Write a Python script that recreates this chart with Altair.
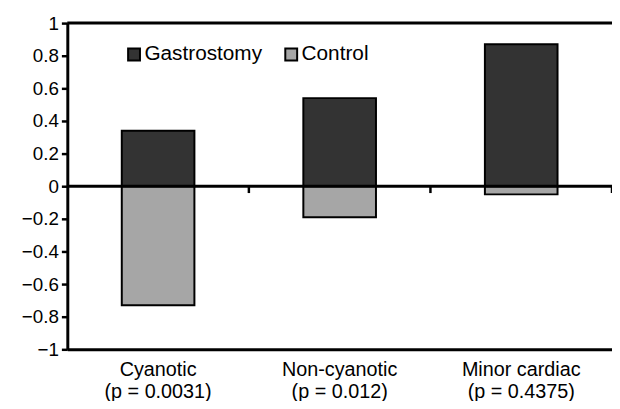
import altair as alt
import pandas as pd

categories = ["Cyanotic", "Non-cyanotic", "Minor cardiac"]
p_values = ["(p = 0.0031)", "(p = 0.012)", "(p = 0.4375)"]
gastrostomy = [0.34, 0.54, 0.87]
control = [-0.73, -0.19, -0.05]
series = ["Gastrostomy", "Control"]
colors = ["#333333", "#a6a6a6"]
y_ticks = [-1, -0.8, -0.6, -0.4, -0.2, 0, 0.2, 0.4, 0.6, 0.8, 1]

FONT = "Liberation Sans"
labels = [f"{c}\n{p}" for c, p in zip(categories, p_values)]

rows = []
for lab, g, c in zip(labels, gastrostomy, control):
    rows.append({"cat": lab, "series": series[0], "value": g})
    rows.append({"cat": lab, "series": series[1], "value": c})
df = pd.DataFrame(rows)

xscale = alt.Scale(domain=labels, paddingInner=0, paddingOuter=0)
yscale = alt.Scale(domain=[y_ticks[0], y_ticks[-1]], nice=False)

x_axis = alt.Axis(
    title=None,
    labelExpr="split(datum.label, '\\n')",
    labelAngle=0,
    ticks=False,
    domainColor="black",
    domainWidth=3,
    labelFont=FONT,
    labelFontSize=20,
    labelColor="black",
    labelPadding=10,
    labelLineHeight=23,
    labelOverlap=False,
)
y_axis = alt.Axis(
    title=None,
    values=y_ticks,
    labelExpr="replace(format(datum.value, '.1~f'), '-', '\u2212')",
    grid=False,
    domainColor="black",
    domainWidth=3,
    tickColor="black",
    tickWidth=2.5,
    tickSize=6,
    labelFont=FONT,
    labelFontSize=19,
    labelColor="black",
    labelPadding=3,
    labelOverlap=False,
    labelBound=False,
)

bars = alt.Chart(df).mark_bar(width={"band": 0.4}, stroke="black", strokeWidth=2).encode(
    x=alt.X("cat:N", scale=xscale, sort=labels, axis=x_axis),
    y=alt.Y("value:Q", scale=yscale, axis=y_axis),
    y2=alt.datum(0),
    color=alt.Color(
        "series:N",
        scale=alt.Scale(domain=series, range=colors),
        sort=series,
        legend=alt.Legend(
            title=None,
            orient="none",
            legendX=57,
            legendY=21,
            direction="horizontal",
            symbolType="square",
            symbolSize=144,
            symbolStrokeColor="black",
            symbolStrokeWidth=2,
            symbolOpacity=1,
            labelFont=FONT,
            labelFontSize=21,
            labelColor="black",
            labelOffset=0,
            columnPadding=18,
            padding=0,
        ),
    ),
)

frame_df = pd.DataFrame({"y": [y_ticks[-1]]})
top_rule = alt.Chart(frame_df).mark_rule(color="black", strokeWidth=3).encode(
    y=alt.Y("y:Q", scale=yscale, axis=y_axis)
)
zero_df = pd.DataFrame({"y": [0]})
zero_rule = alt.Chart(zero_df).mark_rule(color="black", strokeWidth=3).encode(
    y=alt.Y("y:Q", scale=yscale, axis=y_axis)
)

tick_df = pd.DataFrame({"cat": labels[1:]})
ticks_mid = alt.Chart(tick_df).mark_rule(color="black", strokeWidth=2.5).encode(
    x=alt.X("cat:N", scale=xscale, sort=labels, bandPosition=0, axis=x_axis),
    y=alt.YDatum(0, scale=yscale, axis=y_axis),
    y2=alt.datum(-0.042),
)
end_df = pd.DataFrame({"cat": labels[-1:]})
ticks_end = alt.Chart(end_df).mark_rule(color="black", strokeWidth=2.5).encode(
    x=alt.X("cat:N", scale=xscale, sort=labels, bandPosition=1, axis=x_axis),
    y=alt.YDatum(0, scale=yscale, axis=y_axis),
    y2=alt.datum(-0.042),
)

chart = (
    alt.layer(bars, top_rule, zero_rule, ticks_mid, ticks_end)
    .properties(
        width=551,
        height=330,
        autosize=alt.AutoSizeParams(type="none"),
        padding={"left": 60, "top": 13, "right": 0, "bottom": 50},
        background="white",
    )
    .configure_view(stroke=None)
)

chart.save("out.html", embed_options={"renderer": "svg", "actions": False})
